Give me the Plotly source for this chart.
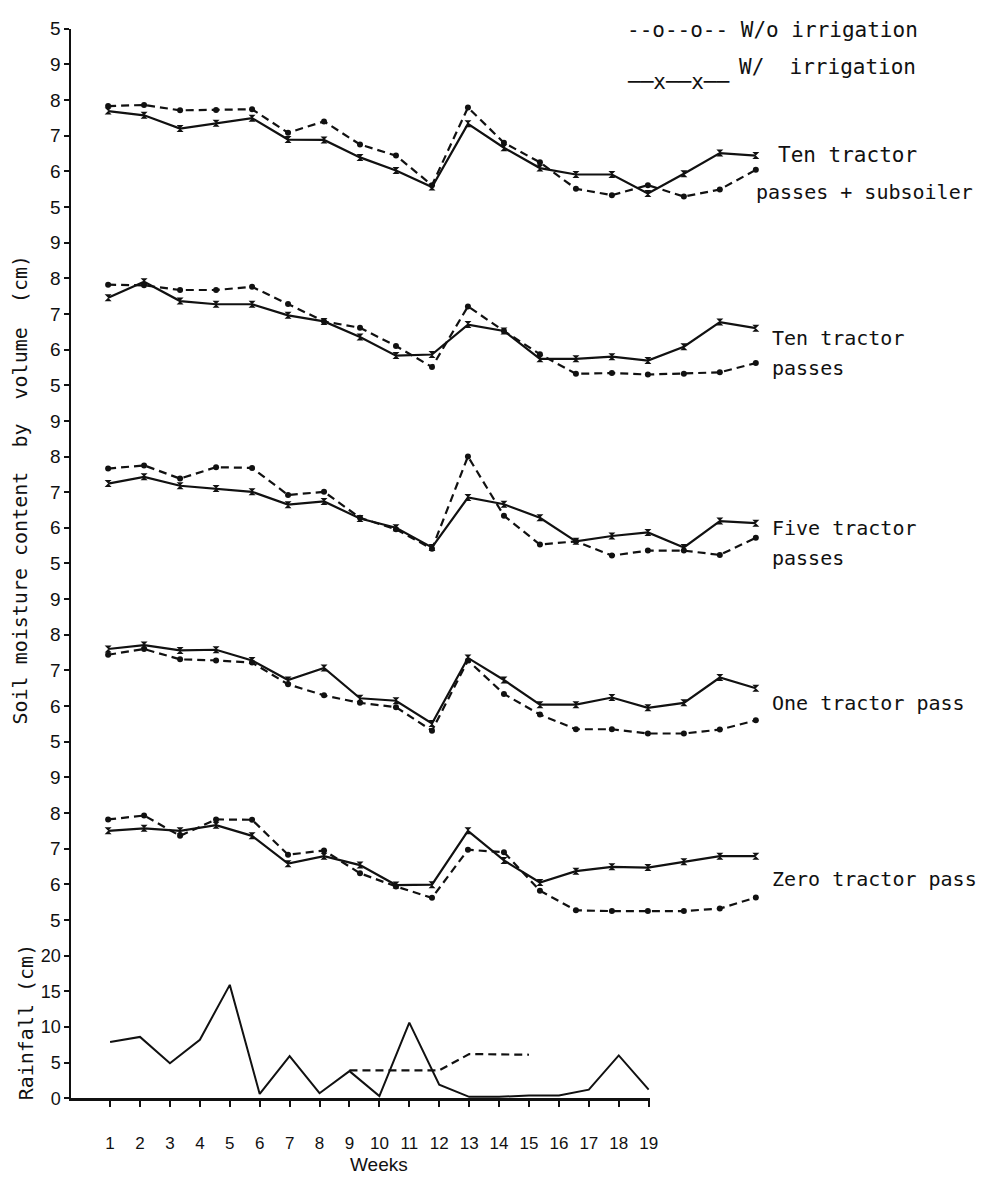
import plotly.graph_objects as go

# ---------------------------------------------------------------
# Data: weekly soil moisture (cm, by volume) and rainfall (cm)
# ---------------------------------------------------------------
weeks = list(range(1, 20))

panel_names = [
    "Ten tractor passes + subsoiler",
    "Ten tractor passes",
    "Five tractor passes",
    "One tractor pass",
    "Zero tractor pass",
]

# Ten tractor passes + subsoiler
ten_sub_wo = [7.83, 7.86, 7.71, 7.72, 7.74, 7.08, 7.40, 6.75, 6.44, 5.61,
              7.79, 6.80, 6.25, 5.51, 5.33, 5.61, 5.29, 5.49, 6.04]
ten_sub_w = [7.69, 7.57, 7.20, 7.35, 7.49, 6.89, 6.88, 6.39, 6.02, 5.56,
             7.33, 6.66, 6.09, 5.91, 5.91, 5.38, 5.93, 6.51, 6.44]

# Ten tractor passes
ten_wo = [7.82, 7.80, 7.67, 7.67, 7.76, 7.28, 6.79, 6.61, 6.10, 5.51,
          7.21, 6.52, 5.87, 5.32, 5.34, 5.30, 5.32, 5.36, 5.62]
ten_w = [7.45, 7.90, 7.36, 7.27, 7.27, 6.96, 6.79, 6.35, 5.83, 5.86,
         6.70, 6.52, 5.74, 5.74, 5.80, 5.69, 6.08, 6.77, 6.60]

# Five tractor passes
five_wo = [7.66, 7.75, 7.38, 7.70, 7.68, 6.92, 7.01, 6.28, 5.96, 5.41,
           8.00, 6.34, 5.53, 5.62, 5.22, 5.36, 5.36, 5.24, 5.72]
five_w = [7.24, 7.43, 7.18, 7.10, 7.01, 6.65, 6.74, 6.26, 6.00, 5.45,
          6.85, 6.66, 6.28, 5.62, 5.77, 5.87, 5.45, 6.19, 6.13]

# One tractor pass
one_wo = [7.44, 7.60, 7.31, 7.28, 7.22, 6.61, 6.30, 6.09, 5.97, 5.31,
          7.28, 6.34, 5.76, 5.35, 5.35, 5.23, 5.23, 5.34, 5.60]
one_w = [7.60, 7.71, 7.56, 7.58, 7.28, 6.73, 7.07, 6.22, 6.15, 5.51,
         7.35, 6.73, 6.04, 6.04, 6.24, 5.95, 6.09, 6.80, 6.50]

# Zero tractor pass
zero_wo = [7.82, 7.93, 7.36, 7.82, 7.81, 6.83, 6.95, 6.31, 5.94, 5.62,
           6.97, 6.90, 5.82, 5.27, 5.25, 5.25, 5.25, 5.32, 5.63]
zero_w = [7.50, 7.57, 7.50, 7.66, 7.36, 6.58, 6.79, 6.54, 5.98, 5.99,
          7.50, 6.67, 6.05, 6.37, 6.49, 6.47, 6.63, 6.79, 6.79]

series_wo = [ten_sub_wo, ten_wo, five_wo, one_wo, zero_wo]
series_w = [ten_sub_w, ten_w, five_w, one_w, zero_w]

rainfall = [7.9, 8.6, 4.9, 8.2, 15.9, 0.6, 5.9, 0.7, 3.8, 0.3,
            10.6, 1.9, 0.2, 0.2, 0.4, 0.4, 1.2, 6.0, 1.2]
irrig_weeks = [9, 10, 11, 12, 13, 14, 15]
irrigation = [3.9, 3.9, 3.9, 3.9, 6.2, 6.2, 6.1]

moist_tickvals = [5, 6, 7, 8, 9]
moist_ticktext = ["5", "6", "7", "8", "9"]
top_tickvals = [5, 6, 7, 8, 9, 10]
top_ticktext = ["5", "6", "7", "8", "9", "5"]
rain_tickvals = [0, 5, 10, 15, 20]
rain_ticktext = ["0", "5", "10", "15", "20"]

# ---------------------------------------------------------------
# Page geometry (pixels)
# ---------------------------------------------------------------
W, H = 982, 1180
AXIS_X = 72          # left axis line
TOP_PX = 19          # top tick of the stacked axis
BASE_PX = 1107       # rainfall zero line
UNIT_PX = (BASE_PX - TOP_PX) / 30.0   # one tick step

SOIL_W1_PX, SOIL_DX = 109.0, 36.28    # soil panels: week spacing
RAIN_W1_PX, RAIN_W19_PX = 111.0, 654.0
RAIN_END_PX = 655.0

def fx(px):
    return px / W

def fy(px):
    return 1 - px / H

BLACK = "#111111"
MONO = "DejaVu Sans Mono, Liberation Mono, monospace"
SANS = "Liberation Sans, Arial, sans-serif"
NARROW = "Liberation Sans Narrow, Liberation Sans, Arial, sans-serif"

fig = go.Figure()

# soil-moisture panels
for i in range(5):
    yname = "y" if i == 0 else f"y{i + 1}"
    fig.add_trace(go.Scatter(
        x=weeks, y=series_wo[i], xaxis="x", yaxis=yname, mode="lines+markers",
        name=panel_names[i] + " W/o irrigation",
        line=dict(color=BLACK, width=2.2, dash="8px,5px"),
        marker=dict(symbol="circle", size=6, color=BLACK),
        showlegend=False,
    ))
    fig.add_trace(go.Scatter(
        x=weeks, y=series_w[i], xaxis="x", yaxis=yname, mode="lines+markers",
        name=panel_names[i] + " W/ irrigation",
        line=dict(color=BLACK, width=2.2),
        marker=dict(symbol="hourglass", size=7, color=BLACK),
        showlegend=False,
    ))

# rainfall panel
fig.add_trace(go.Scatter(
    x=weeks, y=rainfall, xaxis="x2", yaxis="y6", mode="lines",
    name="Rainfall", line=dict(color=BLACK, width=2), showlegend=False,
))
fig.add_trace(go.Scatter(
    x=irrig_weeks, y=irrigation, xaxis="x2", yaxis="y6", mode="lines",
    name="Irrigation", line=dict(color=BLACK, width=2.2, dash="8px,5px"),
    showlegend=False,
))

# axis layout
axis_common = dict(
    showline=True, linecolor=BLACK, linewidth=2, mirror=False,
    ticks="outside", ticklen=5, tickwidth=1.5, tickcolor=BLACK,
    showgrid=False, zeroline=False, fixedrange=True,
    tickfont=dict(family=SANS, size=19, color=BLACK),
)

layout = dict(
    width=W, height=H,
    margin=dict(l=0, r=0, t=0, b=0),
    paper_bgcolor="white", plot_bgcolor="white",
    showlegend=False,
)

soil_x0 = 1 - (SOIL_W1_PX - AXIS_X) / SOIL_DX
soil_x1 = soil_x0 + (W - AXIS_X) / SOIL_DX
layout["xaxis"] = dict(domain=[fx(AXIS_X), 1.0], range=[soil_x0, soil_x1],
                       visible=False, fixedrange=True)

rain_dx = (RAIN_W19_PX - RAIN_W1_PX) / 18.0
rain_x0 = 1 - (RAIN_W1_PX - AXIS_X) / rain_dx
rain_x1 = rain_x0 + (RAIN_END_PX - AXIS_X) / rain_dx
layout["xaxis2"] = dict(
    domain=[fx(AXIS_X), fx(RAIN_END_PX)], range=[rain_x0, rain_x1],
    anchor="y6", tickvals=weeks, ticktext=[str(w) for w in weeks],
    showline=True, linecolor=BLACK, linewidth=2.5,
    ticks="outside", ticklen=6, tickwidth=1.5, tickcolor=BLACK,
    ticklabelstandoff=22, showgrid=False, zeroline=False, fixedrange=True,
    tickfont=dict(family=NARROW, size=17, color=BLACK),
)

for i in range(5):
    if i == 0:
        t_top, t_bot = 0.0, 5.5
        rng = [4.5, 10.0]
        tv, tt = top_tickvals, top_ticktext
    else:
        t_top, t_bot = 5.5 + 5 * (i - 1), 5.5 + 5 * i
        rng = [4.5, 9.5]
        tv, tt = moist_tickvals, moist_ticktext
    dom = [fy(TOP_PX + t_bot * UNIT_PX), fy(TOP_PX + t_top * UNIT_PX)]
    key = "yaxis" if i == 0 else f"yaxis{i + 1}"
    layout[key] = dict(axis_common, domain=dom, range=rng, anchor="x",
                       tickvals=tv, ticktext=tt)

layout["yaxis6"] = dict(
    axis_common,
    domain=[fy(BASE_PX), fy(TOP_PX + 25.5 * UNIT_PX)],
    range=[0, 22.5], anchor="x2",
    tickvals=rain_tickvals, ticktext=rain_ticktext,
    tickfont=dict(family=SANS, size=18, color=BLACK),
)

fig.update_layout(**layout)

# text labels
NB = "\u00a0"
def label(text, px_x, px_y, size=20, family=MONO, angle=0, xanchor="left"):
    fig.add_annotation(
        text=text, x=fx(px_x), y=fy(px_y), xref="paper", yref="paper",
        xanchor=xanchor, yanchor="middle", showarrow=False, textangle=angle,
        font=dict(family=family, size=size, color=BLACK),
    )

# key
label("--o--o--" + NB + "W/o" + NB + "irrigation", 630, 20, size=21)
label("W/" + NB + NB + "irrigation", 743, 58, size=21)
label("\u2500\u2500x\u2500\u2500x\u2500\u2500", 630, 73, size=21)

# panel names
label("Ten" + NB + "tractor", 782, 147, size=21)
label("passes" + NB + "+" + NB + "subsoiler", 760, 185)
label("Ten" + NB + "tractor", 776, 334)
label("passes", 776, 364)
label("Five" + NB + "tractor", 776, 527)
label("passes", 776, 557)
label("One" + NB + "tractor" + NB + "pass", 776, 705)
label("Zero" + NB + "tractor" + NB + "pass", 776, 884)

# axis titles
label("Soil" + NB + "moisture" + NB + "content" + NB * 2 + "by" + NB * 2
      + "volume" + NB * 2 + "(cm)", 20, 488, angle=-90, xanchor="center")
label("Rainfall" + NB + "(cm)", 26, 1029, angle=-90, xanchor="center")
label("Weeks", 382, 1174, size=19, family=NARROW, xanchor="center")

fig.write_html("out.html")
